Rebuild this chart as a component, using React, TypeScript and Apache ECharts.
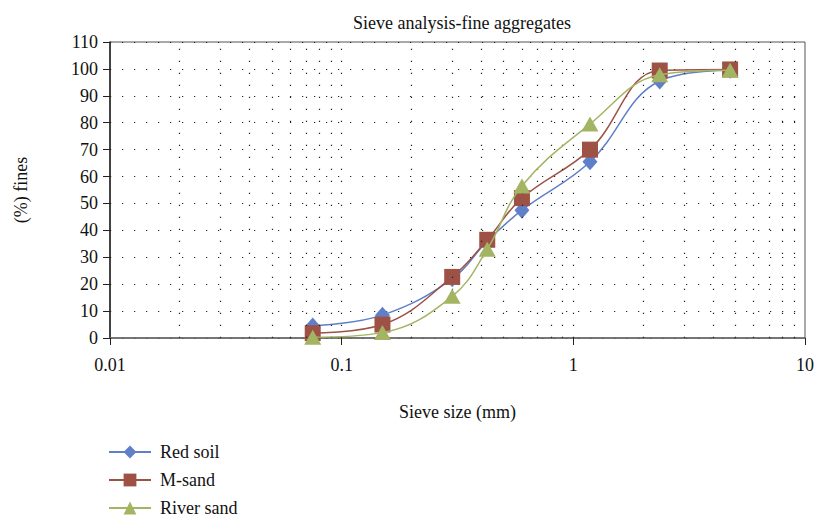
import React, { useEffect, useRef } from "react";
import * as echarts from "echarts";

const sieveSizes = [0.075, 0.15, 0.3, 0.425, 0.6, 1.18, 2.36, 4.75];
const redSoil = [4.5, 8.5, 22, 36, 47.5, 65.5, 95.5, 99.5];
const mSand = [1.8, 5, 22.7, 36.5, 52, 70, 99.4, 99.8];
const riverSand = [0.3, 2, 15.5, 33, 56.5, 79.5, 97.8, 99.5];
const seriesNames = ["Red soil", "M-sand", "River sand"];
const minorGridX = [
  0.02, 0.03, 0.04, 0.05, 0.06, 0.07, 0.08, 0.09, 0.1,
  0.2, 0.3, 0.4, 0.5, 0.6, 0.7, 0.8, 0.9, 1,
  2, 3, 4, 5, 6, 7, 8, 9,
];

const FONT = "'Liberation Serif', 'Times New Roman', serif";

export default function App() {
  const ref = useRef<HTMLDivElement>(null);
  useEffect(() => {
    if (!ref.current) return;
    const chart = echarts.init(ref.current, undefined, { renderer: "svg" });
    const pair = (ys: number[]) => sieveSizes.map((x, i) => [x, ys[i]]);
    const dotted = { color: "#222", width: 1.2, type: [1.2, 10.8] as any };
    chart.setOption({
      animation: false,
      title: {
        text: "Sieve analysis-fine aggregates",
        left: 457,
        textAlign: "center",
        top: 9,
        textStyle: { fontFamily: FONT, fontSize: 18, fontWeight: "normal", color: "#111" },
      },
      grid: {
        left: 110,
        right: 13,
        top: 42,
        bottom: 183,
        show: true,
        borderColor: "#555",
        borderWidth: 1,
      },
      legend: {
        orient: "vertical",
        left: 108,
        top: 443,
        height: 120,
        padding: 0,
        itemWidth: 42,
        itemHeight: 16,
        itemGap: 10,
        textStyle: { fontFamily: FONT, fontSize: 18, color: "#111", padding: [0, 0, 0, 4] },
        data: seriesNames,
      },
      xAxis: {
        type: "log",
        logBase: 10,
        min: 0.01,
        max: 10,
        name: "Sieve size (mm)",
        nameLocation: "middle",
        nameGap: 65,
        nameTextStyle: { fontFamily: FONT, fontSize: 18, color: "#111" },
        axisLine: { show: true, lineStyle: { color: "#666", width: 1.5 } },
        axisTick: { show: true, inside: false, length: 7, lineStyle: { color: "#222" } },
        axisLabel: {
          fontFamily: FONT,
          fontSize: 18,
          color: "#111",
          margin: 18,
          formatter: (v: number) => String(v),
        },
        splitLine: { show: false },
      },
      yAxis: {
        type: "value",
        min: 0,
        max: 110,
        interval: 10,
        name: "(%) fines",
        nameLocation: "middle",
        nameGap: 80,
        nameRotate: 90,
        nameTextStyle: { fontFamily: FONT, fontSize: 18, color: "#111" },
        axisLine: { show: true, lineStyle: { color: "#222", width: 1.5 } },
        axisTick: { show: true, inside: false, length: 7, lineStyle: { color: "#222" } },
        axisLabel: { fontFamily: FONT, fontSize: 18, color: "#111", margin: 12 },
        splitLine: { show: true, lineStyle: dotted },
      },
      series: [
        {
          name: "__grid",
          type: "line",
          data: [],
          silent: true,
          markLine: {
            silent: true,
            symbol: "none",
            label: { show: false },
            lineStyle: dotted,
            data: minorGridX.map((x) => ({ xAxis: x })),
          },
        },
        {
          name: seriesNames[0],
          type: "line",
          data: pair(redSoil),
          smooth: 0.4,
          symbol: "diamond",
          symbolSize: [15, 17],
          itemStyle: { color: "#5F7FC9" },
          lineStyle: { color: "#5F7FC9", width: 1.5 },
          z: 3,
        },
        {
          name: seriesNames[1],
          type: "line",
          data: pair(mSand),
          smooth: 0.4,
          symbol: "rect",
          symbolSize: 16,
          itemStyle: { color: "#9E5246" },
          lineStyle: { color: "#9E5246", width: 1.5 },
          z: 4,
        },
        {
          name: seriesNames[2],
          type: "line",
          data: pair(riverSand),
          smooth: 0.4,
          symbol: "triangle",
          symbolSize: [17, 15],
          itemStyle: { color: "#A3B562" },
          lineStyle: { color: "#A3B562", width: 1.5 },
          z: 5,
        },
      ],
    });
    return () => chart.dispose();
  }, []);
  return <div ref={ref} style={{ width: 818, height: 521, position: "absolute", left: 0, top: 0, background: "#fff" }} />;
}
